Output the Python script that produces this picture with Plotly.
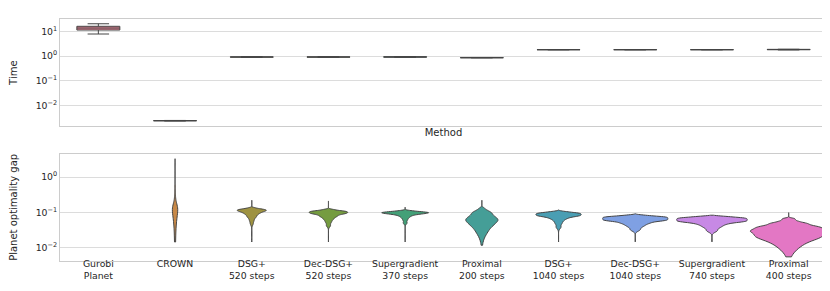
import colorsys
import plotly.graph_objects as go

# ---------------- data ----------------
methods = ["Gurobi<br>Planet", "CROWN", "DSG+<br>520 steps", "Dec-DSG+<br>520 steps",
           "Supergradient<br>370 steps", "Proximal<br>200 steps", "DSG+<br>1040 steps",
           "Dec-DSG+<br>1040 steps", "Supergradient<br>740 steps", "Proximal<br>400 steps"]

# Time box statistics (seconds)
time_lowerfence = [7.8, 0.00232, 0.89, 0.89, 0.89, 0.84, 1.78, 1.78, 1.78, 1.76]
time_q1 = [11.3, 0.00236, 0.90, 0.90, 0.90, 0.85, 1.79, 1.79, 1.79, 1.80]
time_median = [13.6, 0.00238, 0.91, 0.91, 0.91, 0.85, 1.80, 1.80, 1.80, 1.82]
time_q3 = [16.0, 0.00240, 0.92, 0.92, 0.93, 0.86, 1.81, 1.81, 1.81, 1.86]
time_upperfence = [20.3, 0.00244, 0.93, 0.93, 0.94, 0.87, 1.82, 1.82, 1.82, 1.88]

# Planet optimality gap: observed range (min, max) per method and bulk samples
# (Gurobi Planet has zero gap -> nothing on the log axis)
gap_min = [None, 0.0145, 0.0145, 0.0145, 0.0145, 0.0117, 0.0145, 0.0145, 0.0145, 0.0055]
gap_max = [None, 3.3, 0.22, 0.21, 0.14, 0.22, 0.117, 0.091, 0.083, 0.098]

gap_gurobi = []
gap_crown = [0.04, 0.06, 0.075, 0.085, 0.095, 0.1, 0.11, 0.115, 0.12, 0.125, 0.13, 0.14, 0.15,
             0.16, 0.18, 0.2, 0.23, 0.27, 0.33, 0.42, 0.55]
gap_dsg_520 = [0.047, 0.056, 0.062, 0.068, 0.072, 0.075, 0.078, 0.081, 0.084, 0.087, 0.089, 0.091,
               0.093, 0.095, 0.097, 0.099, 0.1, 0.101, 0.103, 0.104, 0.106, 0.107, 0.108, 0.109,
               0.11, 0.111, 0.112, 0.113, 0.114, 0.115, 0.116, 0.117, 0.118, 0.119, 0.12, 0.121,
               0.122, 0.123, 0.125, 0.127, 0.129, 0.132, 0.136]
gap_decdsg_520 = [0.042, 0.051, 0.057, 0.062, 0.066, 0.069, 0.072, 0.075, 0.077, 0.079, 0.081, 0.083,
                  0.085, 0.087, 0.088, 0.09, 0.091, 0.092, 0.093, 0.094, 0.095, 0.096, 0.097, 0.098,
                  0.099, 0.1, 0.101, 0.102, 0.103, 0.104, 0.105, 0.106, 0.107, 0.108, 0.109, 0.11,
                  0.112, 0.114, 0.116, 0.119, 0.123]
gap_supergrad_370 = [0.05, 0.06, 0.067, 0.072, 0.076, 0.079, 0.082, 0.084, 0.086, 0.088, 0.089, 0.09,
                     0.091, 0.092, 0.093, 0.094, 0.095, 0.0955, 0.096, 0.097, 0.0975, 0.098, 0.099,
                     0.0995, 0.1, 0.101, 0.102, 0.103, 0.104, 0.105, 0.106, 0.108, 0.11, 0.113]
gap_prox_200 = [0.022, 0.027, 0.031, 0.035, 0.038, 0.041, 0.043, 0.045, 0.047, 0.049, 0.051,
                0.053, 0.055, 0.057, 0.058, 0.059, 0.061, 0.062, 0.064, 0.066, 0.068, 0.069, 0.071,
                0.073, 0.075, 0.077, 0.079, 0.081, 0.084, 0.087, 0.089, 0.091, 0.094, 0.097, 0.099,
                0.102, 0.105, 0.109, 0.113, 0.118, 0.125, 0.135]
gap_dsg_1040 = [0.038, 0.047, 0.053, 0.058, 0.062, 0.065, 0.068, 0.07, 0.072, 0.074, 0.076, 0.077,
                0.078, 0.079, 0.08, 0.081, 0.082, 0.083, 0.084, 0.085, 0.086, 0.087, 0.088, 0.089,
                0.09, 0.091, 0.092, 0.093, 0.094, 0.095, 0.096, 0.097, 0.098, 0.1, 0.102, 0.104, 0.107]
gap_decdsg_1040 = [0.032, 0.038, 0.042, 0.045, 0.048, 0.05, 0.052, 0.054, 0.056, 0.057, 0.058, 0.059,
                   0.06, 0.061, 0.062, 0.063, 0.064, 0.065, 0.066, 0.067, 0.068, 0.069, 0.07, 0.071,
                   0.072, 0.073, 0.074, 0.075, 0.076, 0.077, 0.079, 0.081, 0.084]
gap_supergrad_740 = [0.03, 0.036, 0.04, 0.043, 0.046, 0.048, 0.05, 0.052, 0.053, 0.054, 0.055, 0.056,
                     0.057, 0.058, 0.059, 0.06, 0.061, 0.062, 0.063, 0.064, 0.065, 0.066, 0.067,
                     0.068, 0.069, 0.07, 0.071, 0.072, 0.074, 0.076, 0.078]
gap_prox_400 = [0.009, 0.012, 0.014, 0.016, 0.017, 0.018, 0.0195, 0.02, 0.021, 0.022, 0.023, 0.024,
                0.025, 0.026, 0.027, 0.028, 0.029, 0.0295, 0.03, 0.031, 0.032, 0.033, 0.034, 0.035,
                0.036, 0.037, 0.038, 0.039, 0.04, 0.041, 0.043, 0.044, 0.046, 0.048, 0.049, 0.051,
                0.054, 0.057, 0.062, 0.067]

gap_samples = [gap_gurobi, gap_crown, gap_dsg_520, gap_decdsg_520, gap_supergrad_370, gap_prox_200,
               gap_dsg_1040, gap_decdsg_1040, gap_supergrad_740, gap_prox_400]

# ---------------- styling ----------------
husl = ["#f77189", "#dc8932", "#ae9d31", "#77ab31", "#33b07a",
        "#36ada4", "#38a9c5", "#6e9bf4", "#cc7af4", "#f565cc"]


def desaturate(hx, prop=0.75):
    r, g, b = (int(hx[i:i + 2], 16) / 255 for i in (1, 3, 5))
    h, l, s = colorsys.rgb_to_hls(r, g, b)
    r, g, b = colorsys.hls_to_rgb(h, l, s * prop)
    return "#%02x%02x%02x" % (round(r * 255), round(g * 255), round(b * 255))


colors = [desaturate(c) for c in husl]
EDGE = "#454545"
GRID = "#dcdcdc"
TXT = "#262626"
FONT = "DejaVu Sans"

violin_bw = [0.01, 0.04, 0.005, 0.004, 0.004, 0.007, 0.004, 0.003, 0.003, 0.003]
violin_w = [0.5, 0.07, 0.38, 0.50, 0.61, 0.42, 0.59, 0.85, 0.92, 1.0]

fig = go.Figure()

for i, m in enumerate(methods):
    fig.add_trace(go.Box(
        x=[m], q1=[time_q1[i]], median=[time_median[i]], q3=[time_q3[i]],
        lowerfence=[time_lowerfence[i]], upperfence=[time_upperfence[i]],
        fillcolor=colors[i], line=dict(color=EDGE, width=1), whiskerwidth=0.5,
        xaxis="x", yaxis="y", showlegend=False, hoverinfo="skip"))

for i, m in enumerate(methods):
    if not gap_samples[i]:
        continue
    fig.add_trace(go.Violin(
        x=[m] * len(gap_samples[i]), y=gap_samples[i],
        fillcolor=colors[i], opacity=1, line=dict(color=EDGE, width=1),
        points=False, box_visible=False, meanline_visible=False,
        spanmode="manual", span=[gap_min[i], gap_max[i]],
        bandwidth=violin_bw[i], width=violin_w[i],
        scalegroup="v%d" % i, scalemode="width",
        xaxis="x2", yaxis="y2", showlegend=False, hoverinfo="skip"))

tick_font = dict(family=FONT, size=9.3, color=TXT)
title_font = dict(family=FONT, size=10, color=TXT)

common_x = dict(type="category", categoryorder="array", categoryarray=methods,
                range=[-0.5, 9.5], showgrid=False, showline=True, mirror=True,
                linecolor="#cccccc", linewidth=1, ticks="", zeroline=False,
                tickfont=tick_font, automargin=False)
common_y = dict(type="log", showgrid=True, gridcolor=GRID, gridwidth=1, showline=True,
                mirror=True, linecolor="#cccccc", linewidth=1, ticks="", zeroline=False,
                tickfont=tick_font, automargin=False)

fig.update_layout(
    width=830, height=291,
    margin=dict(l=52, r=11, t=11, b=38),
    paper_bgcolor="white", plot_bgcolor="white",
    font=dict(family=FONT, color=TXT),
    boxmode="overlay", violinmode="overlay", boxgap=0.2, violingap=0,
    xaxis=dict(common_x, domain=[0, 1], anchor="y", showticklabels=False,
               title=dict(text="Method", font=title_font, standoff=2)),
    yaxis=dict(common_y, domain=[0.5566, 1], anchor="x", range=[-2.85, 1.5],
               tickvals=[0.01, 0.1, 1, 10],
               ticktext=["10<sup>\u22122</sup>", "10<sup>\u22121</sup>", "10<sup>0</sup>", "10<sup>1</sup>"],
               title=dict(text="Time", font=title_font, standoff=18)),
    xaxis2=dict(common_x, domain=[0, 1], anchor="y2", ticklabelstandoff=-6),
    yaxis2=dict(common_y, domain=[0, 0.4434], anchor="x2", range=[-2.377, 0.66],
                tickvals=[0.01, 0.1, 1],
                ticktext=["10<sup>\u22122</sup>", "10<sup>\u22121</sup>", "10<sup>0</sup>"],
                title=dict(text="Planet optimality gap", font=title_font, standoff=18)),
)

fig.write_html("out.html")
